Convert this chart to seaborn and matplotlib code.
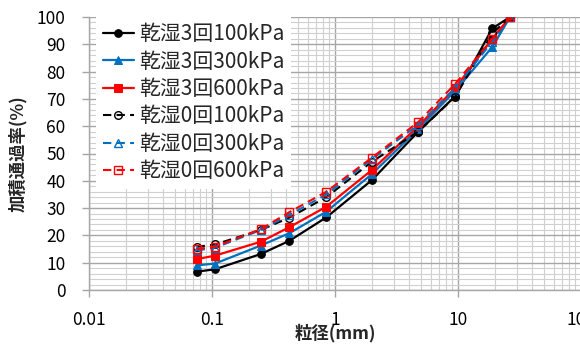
import matplotlib
matplotlib.use("Agg")
import matplotlib.pyplot as plt
import seaborn as sns
import numpy as np
import pandas as pd
from matplotlib.ticker import LogLocator, MultipleLocator, NullFormatter

sns.set_style("white")
plt.rcParams['font.family'] = ['Noto Sans CJK JP', 'DejaVu Sans']

# sieve sizes (mm)
sizes = [0.075, 0.106, 0.25, 0.425, 0.85, 2, 4.75, 9.5, 19, 26.5]

labels = ["乾湿3回100kPa", "乾湿3回300kPa", "乾湿3回600kPa",
          "乾湿0回100kPa", "乾湿0回300kPa", "乾湿0回600kPa"]

s3_100 = [6.7, 7.6, 13.2, 18.0, 26.6, 40.3, 58.0, 71.0, 95.8, 100]
s3_300 = [9.0, 9.7, 16.3, 20.8, 28.7, 42.5, 59.0, 73.0, 89.0, 100]
s3_600 = [11.3, 12.6, 17.7, 23.0, 30.5, 44.0, 60.0, 74.0, 92.0, 100]
s0_100 = [15.8, 16.7, 22.0, 26.5, 34.0, 47.0, 58.0, 70.8, 94.0, 100]
s0_300 = [14.5, 15.5, 22.0, 27.5, 35.0, 48.0, 60.5, 74.0, 91.0, 100]
s0_600 = [15.0, 15.9, 22.3, 28.5, 36.0, 48.5, 61.5, 75.5, 92.0, 100]

xticks = [0.01, 0.1, 1, 10, 100, 1000]
xticklabels = ["0.01", "0.1", "1", "10", "100", "1000"]
yticks = list(range(0, 101, 10))

series = [s3_100, s3_300, s3_600, s0_100, s0_300, s0_600]
colors = ["black", "#0070C0", "#FF0000", "black", "#0070C0", "#FF0000"]
markers = ["o", "^", "s", "o", "^", "s"]
dashed = [False, False, False, True, True, True]

fig = plt.figure(figsize=(5.8, 3.47), dpi=100)
ax = fig.add_axes([89/580, 57/347, 615/580, 273/347])

for lab, vals, c, m, d in zip(labels, series, colors, markers, dashed):
    df = pd.DataFrame({"x": sizes, "y": vals})
    if d:
        sns.lineplot(data=df, x="x", y="y", ax=ax, color=c, marker=m,
                     markersize=5.5, markerfacecolor="none", markeredgecolor=c,
                     markeredgewidth=1.0, linewidth=1.5, label=lab,
                     estimator=None, linestyle=(0, (4, 2.5)))
    else:
        sns.lineplot(data=df, x="x", y="y", ax=ax, color=c, marker=m,
                     markersize=5.5, markerfacecolor=c, markeredgecolor=c,
                     linewidth=1.6, label=lab, estimator=None)

ax.set_xscale("log")
ax.set_xlim(0.01, 1000)
ax.set_ylim(0, 100)
ax.set_xticks(xticks)
ax.set_xticklabels(xticklabels)
ax.xaxis.set_minor_locator(LogLocator(base=10, subs=np.arange(2, 10)))
ax.xaxis.set_minor_formatter(NullFormatter())
ax.set_yticks(yticks)
ax.yaxis.set_minor_locator(MultipleLocator(2))

ax.grid(True, which="major", color="#a6a6a6", linewidth=1.0)
ax.grid(True, which="minor", color="#d0d0d0", linewidth=0.8)
ax.set_axisbelow(True)

for sp in ["top", "right"]:
    ax.spines[sp].set_visible(False)
for sp in ["left", "bottom"]:
    ax.spines[sp].set_color("#a6a6a6")
    ax.spines[sp].set_linewidth(1.0)

ax.tick_params(axis="both", which="major", labelsize=12.5, colors="#a6a6a6",
               labelcolor="black", length=5, width=1.0, direction="out")
ax.tick_params(axis="x", which="major", pad=10)
ax.tick_params(axis="y", which="major", pad=12)
ax.tick_params(axis="both", which="minor", length=0)
ax.yaxis.set_ticks_position("left")
ax.xaxis.set_ticks_position("bottom")

ax.set_xlabel("粒径(mm)", fontsize=12.5, fontweight="bold")
ax.set_ylabel("加積通過率(%)", fontsize=12.5, fontweight="bold")
ax.xaxis.set_label_coords(0.40, -0.125)
ax.yaxis.set_label_coords(-0.100, 0.5)

leg = ax.legend(loc="upper left", bbox_to_anchor=(0.012, 1.0), fontsize=15,
                frameon=True, facecolor="white", edgecolor="none", framealpha=1,
                handlelength=1.5, handletextpad=0.25, labelspacing=0.26,
                borderpad=0.3, borderaxespad=0, fancybox=False)

fig.savefig("out.png", dpi=100)
